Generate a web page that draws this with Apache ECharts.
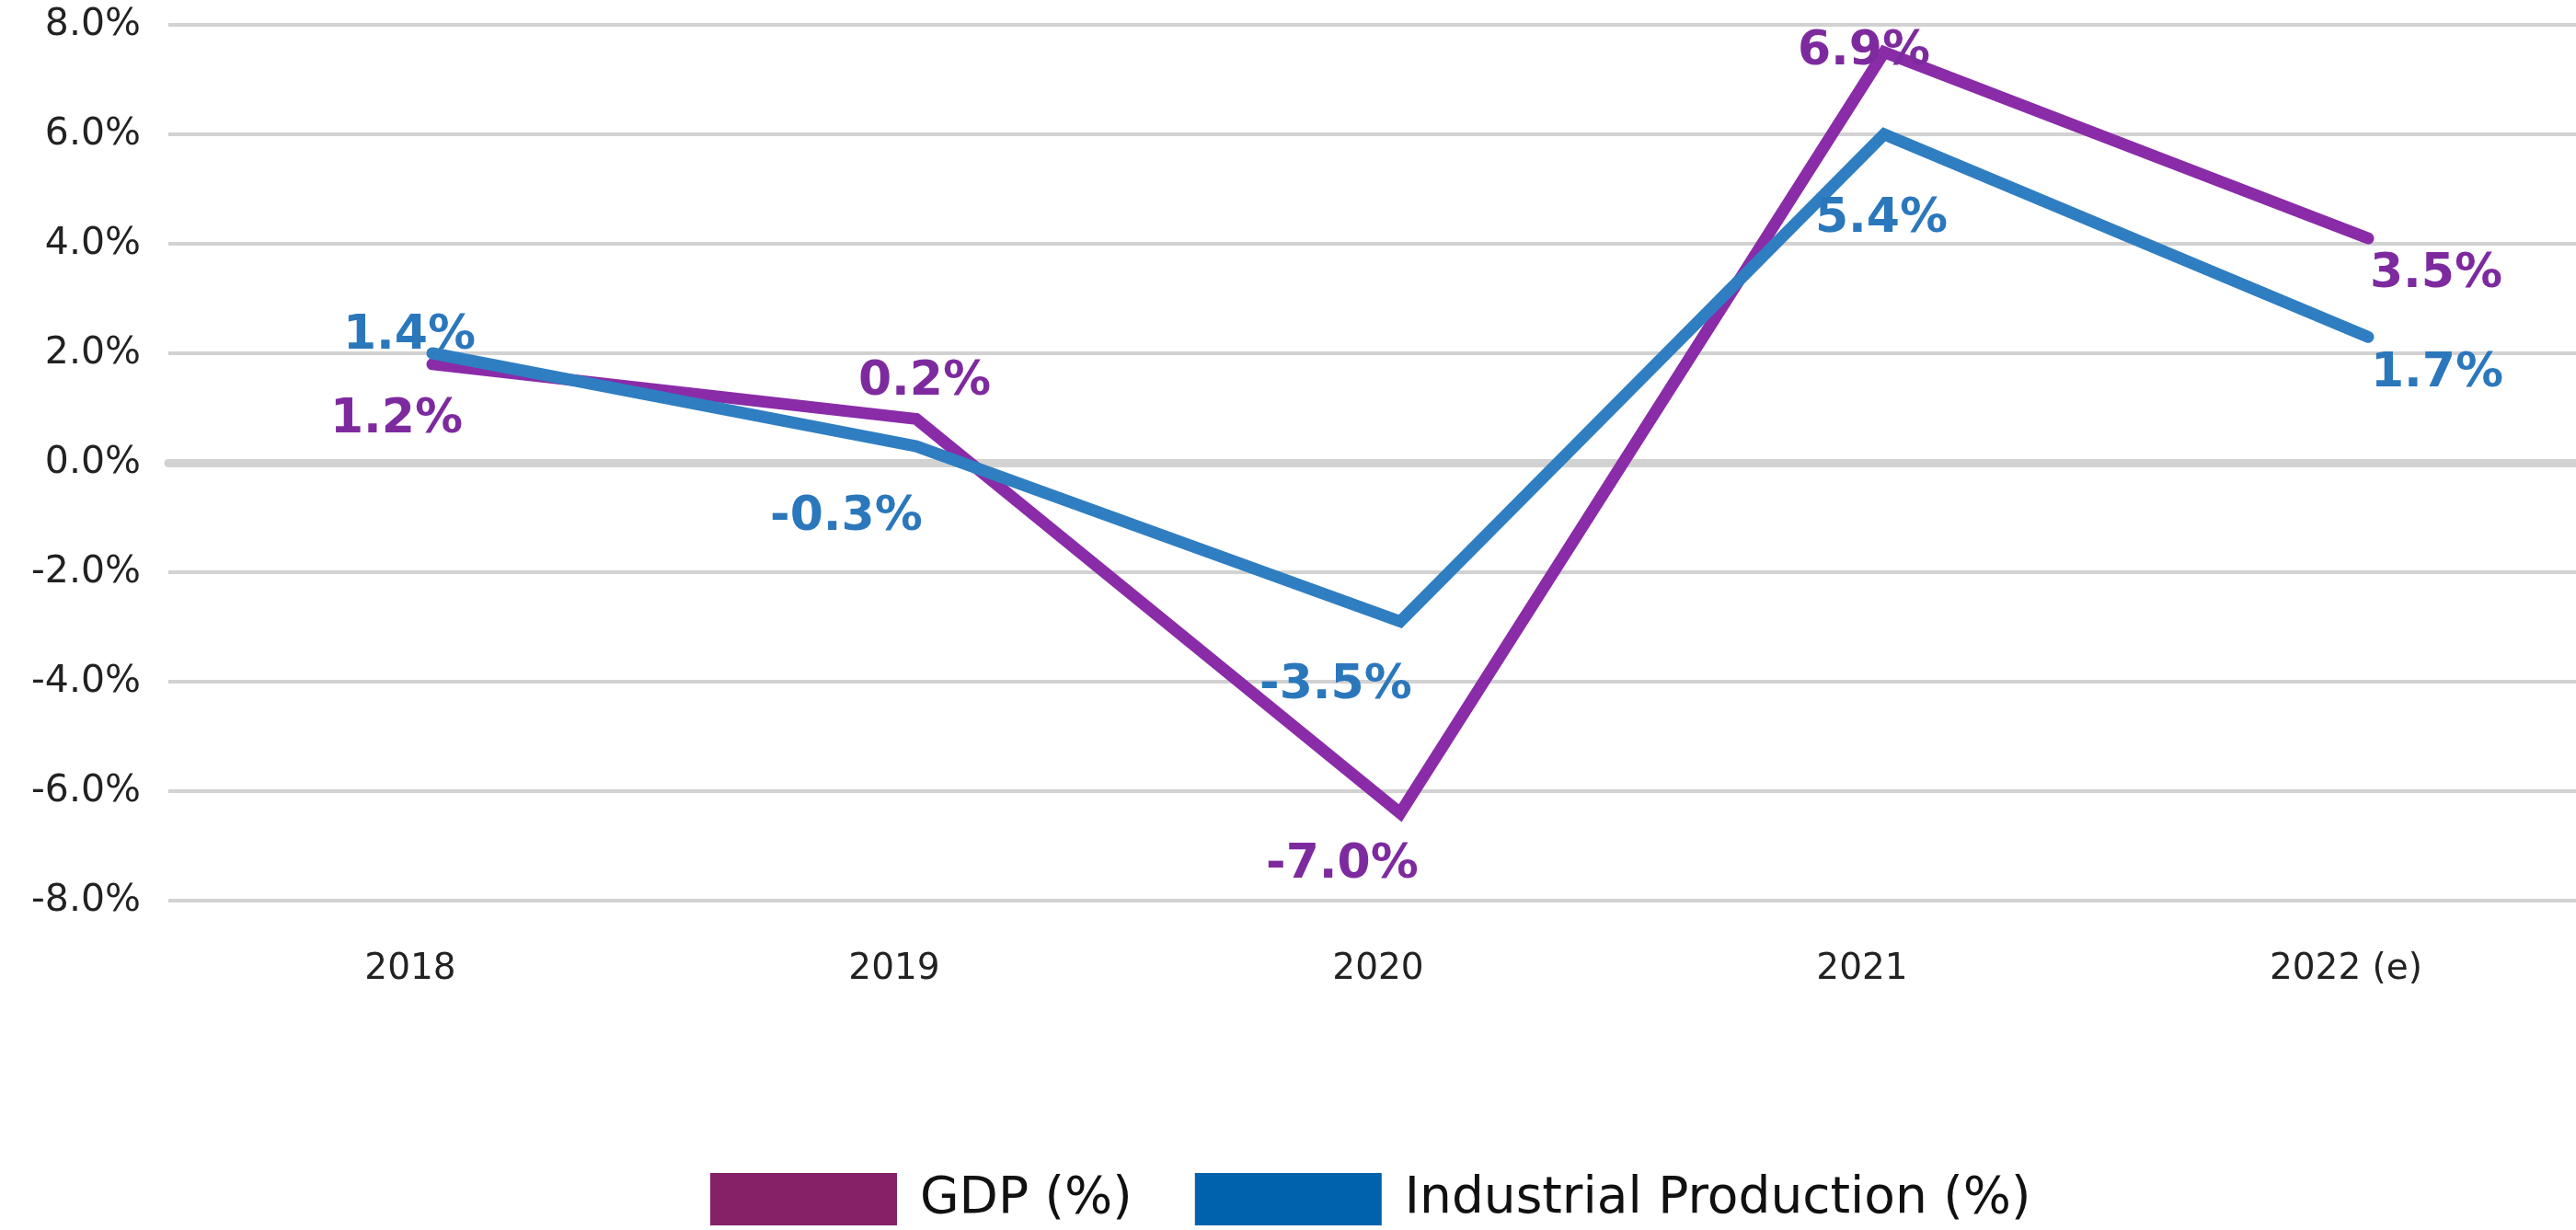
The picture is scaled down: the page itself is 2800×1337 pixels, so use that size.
<!DOCTYPE html>
<html>
<head>
<meta charset="utf-8">
<script src="https://cdn.jsdelivr.net/npm/echarts@6/dist/echarts.min.js"></script>
<style>
  html, body { margin: 0; padding: 0; background: #ffffff; }
  #chart { width: 2800px; height: 1337px; }
</style>
</head>
<body>
<div id="chart"></div>
<script>
// Annual change, in percent
const categories = ['2018', '2019', '2020', '2021', '2022 (e)'];
const gdp = [1.2, 0.2, -7.0, 6.9, 3.5];
const industrialProduction = [1.4, -0.3, -3.5, 5.4, 1.7];

// Value axis ticks
const axisMin = -8;
const axisMax = 8;
const axisStep = 2;

// The lines are plotted on a scale that sits 0.6 pt below the labelled axis
const plotShift = 0.6;

// Label placement around each point (px, relative to the point)
const gdpLabelOffsets = [[-39, 61], [9, -40], [-63, 57], [-22, 0], [74, 39]];
const ipLabelOffsets = [[-25, -19], [-76, 77], [-70, 70], [-3, 92], [75, 40]];

const FONT = "'DejaVu Sans', Verdana, sans-serif";
const GDP_LINE = '#8a2ba8';
const GDP_TEXT = '#7e2a9f';
const GDP_KEY = '#862167';
const IP_LINE = '#2f7ec1';
const IP_TEXT = '#2b77bc';
const IP_KEY = '#0062ad';
const GRID = '#d2d2d2';

const TOP = 27;
const BOTTOM = 358;

const chart = echarts.init(document.getElementById('chart'), null, { renderer: 'canvas' });

function lineSeries(name, values, offsets, lineColor, textColor, keyColor) {
  return {
    name: name,
    type: 'line',
    xAxisIndex: 2,
    yAxisIndex: 2,
    data: values.map((v, i) => ({ value: v, label: { offset: offsets[i] } })),
    symbol: 'circle',
    symbolSize: 1,
    showSymbol: true,
    clip: false,
    itemStyle: { color: keyColor },
    lineStyle: { color: lineColor, width: 13, cap: 'round', join: 'miter' },
    label: {
      show: true,
      position: 'inside',
      align: 'center',
      verticalAlign: 'middle',
      color: textColor,
      fontFamily: FONT,
      fontWeight: 'bold',
      fontSize: 52,
      formatter: p => p.value.toFixed(1) + '%'
    },
    emphasis: { disabled: true },
    z: 3
  };
}

chart.setOption({
  animation: false,
  backgroundColor: '#ffffff',
  grid: [
    // value axis, gridlines and zero line
    { left: 183, right: 0, top: TOP, bottom: BOTTOM },
    // category labels
    { left: 446, right: 250, top: TOP, bottom: BOTTOM },
    // plotted lines
    { left: 470, right: 226, top: TOP, bottom: BOTTOM }
  ],
  legend: {
    left: 772,
    top: 1275,
    padding: 0,
    itemWidth: 203,
    itemHeight: 57,
    itemGap: 68,
    icon: 'rect',
    selectedMode: false,
    data: [
      { name: 'GDP (%)', itemStyle: { color: GDP_KEY } },
      { name: 'Industrial Production (%)', itemStyle: { color: IP_KEY } }
    ],
    textStyle: { fontFamily: FONT, fontSize: 55, color: '#111111', padding: [0, 0, 0, 20] }
  },
  xAxis: [
    {
      type: 'category',
      gridIndex: 0,
      data: categories,
      axisLine: { show: true, onZero: true, lineStyle: { color: GRID, width: 9 } },
      axisTick: { show: false },
      axisLabel: { show: false }
    },
    {
      type: 'category',
      gridIndex: 1,
      data: categories,
      boundaryGap: false,
      axisLine: { show: false, onZero: false },
      axisTick: { show: false },
      splitLine: { show: false },
      axisLabel: { fontFamily: FONT, fontSize: 39, color: '#222222', margin: 55, interval: 0 }
    },
    {
      type: 'category',
      gridIndex: 2,
      data: categories,
      boundaryGap: false,
      show: false
    }
  ],
  yAxis: [
    {
      type: 'value',
      gridIndex: 0,
      min: axisMin,
      max: axisMax,
      interval: axisStep,
      axisLine: { show: false },
      axisTick: { show: false },
      splitLine: { show: true, lineStyle: { color: GRID, width: 4 } },
      axisLabel: {
        fontFamily: FONT,
        fontSize: 41,
        color: '#222222',
        margin: 30,
        formatter: v => v.toFixed(1) + '%'
      }
    },
    {
      type: 'value',
      gridIndex: 1,
      min: axisMin,
      max: axisMax,
      show: false,
      splitLine: { show: false }
    },
    {
      type: 'value',
      gridIndex: 2,
      min: axisMin - plotShift,
      max: axisMax - plotShift,
      show: false,
      splitLine: { show: false }
    }
  ],
  series: [
    lineSeries('GDP (%)', gdp, gdpLabelOffsets, GDP_LINE, GDP_TEXT, GDP_KEY),
    lineSeries('Industrial Production (%)', industrialProduction, ipLabelOffsets, IP_LINE, IP_TEXT, IP_KEY)
  ]
});
</script>
</body>
</html>
